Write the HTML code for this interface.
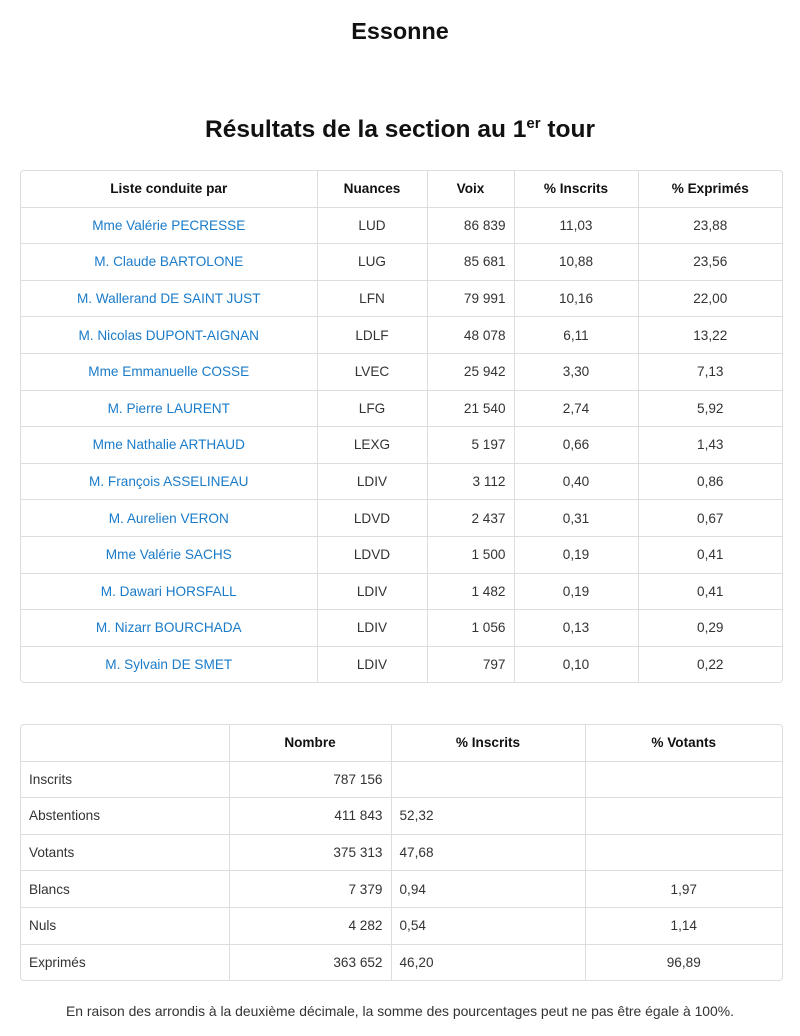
<!DOCTYPE html>
<html><head><meta charset="utf-8"><style>
body{margin:0;width:800px;height:1036px;background:#fff;font-family:"Liberation Sans",Arial,sans-serif;color:#333;position:relative;overflow:hidden}
h1,h2{position:absolute;left:0;width:800px;text-align:center;margin:0;font-weight:bold;color:#111}
h1{top:18px;font-size:23.4px}
h2{top:115px;font-size:24.5px}
h2 sup{font-size:15px}
.wrap{position:absolute;left:20px;width:761px;border:1px solid #ddd;border-radius:4px;overflow:hidden}
table{border-collapse:collapse;width:100%;font-size:13.6px;table-layout:fixed}
td,th{border-right:1px solid #ddd;border-bottom:1px solid #ddd;padding:0 8px;height:35.6px}
tr:last-child td{border-bottom:none}
td:last-child,th:last-child{border-right:none}
th{font-weight:bold;text-align:center;color:#111}
.c{text-align:center}.r{text-align:right}
a{color:#1a7bc9;text-decoration:none}
.foot{position:absolute;top:1003px;left:0;width:800px;text-align:center;font-size:13.9px}
</style></head><body>
<h1>Essonne</h1>
<h2>Résultats de la section au 1<sup>er</sup> tour</h2>
<div class="wrap" style="top:170px">
<table>
<colgroup><col style="width:296px"><col style="width:110px"><col style="width:87px"><col style="width:124px"><col></colgroup>
<tr><th>Liste conduite par</th><th>Nuances</th><th>Voix</th><th>% Inscrits</th><th>% Exprimés</th></tr>
<tr><td class="c"><a>Mme Valérie PECRESSE</a></td><td class="c">LUD</td><td class="r">86 839</td><td class="c">11,03</td><td class="c">23,88</td></tr>
<tr><td class="c"><a>M. Claude BARTOLONE</a></td><td class="c">LUG</td><td class="r">85 681</td><td class="c">10,88</td><td class="c">23,56</td></tr>
<tr><td class="c"><a>M. Wallerand DE SAINT JUST</a></td><td class="c">LFN</td><td class="r">79 991</td><td class="c">10,16</td><td class="c">22,00</td></tr>
<tr><td class="c"><a>M. Nicolas DUPONT-AIGNAN</a></td><td class="c">LDLF</td><td class="r">48 078</td><td class="c">6,11</td><td class="c">13,22</td></tr>
<tr><td class="c"><a>Mme Emmanuelle COSSE</a></td><td class="c">LVEC</td><td class="r">25 942</td><td class="c">3,30</td><td class="c">7,13</td></tr>
<tr><td class="c"><a>M. Pierre LAURENT</a></td><td class="c">LFG</td><td class="r">21 540</td><td class="c">2,74</td><td class="c">5,92</td></tr>
<tr><td class="c"><a>Mme Nathalie ARTHAUD</a></td><td class="c">LEXG</td><td class="r">5 197</td><td class="c">0,66</td><td class="c">1,43</td></tr>
<tr><td class="c"><a>M. François ASSELINEAU</a></td><td class="c">LDIV</td><td class="r">3 112</td><td class="c">0,40</td><td class="c">0,86</td></tr>
<tr><td class="c"><a>M. Aurelien VERON</a></td><td class="c">LDVD</td><td class="r">2 437</td><td class="c">0,31</td><td class="c">0,67</td></tr>
<tr><td class="c"><a>Mme Valérie SACHS</a></td><td class="c">LDVD</td><td class="r">1 500</td><td class="c">0,19</td><td class="c">0,41</td></tr>
<tr><td class="c"><a>M. Dawari HORSFALL</a></td><td class="c">LDIV</td><td class="r">1 482</td><td class="c">0,19</td><td class="c">0,41</td></tr>
<tr><td class="c"><a>M. Nizarr BOURCHADA</a></td><td class="c">LDIV</td><td class="r">1 056</td><td class="c">0,13</td><td class="c">0,29</td></tr>
<tr><td class="c"><a>M. Sylvain DE SMET</a></td><td class="c">LDIV</td><td class="r">797</td><td class="c">0,10</td><td class="c">0,22</td></tr>
</table></div>
<div class="wrap" style="top:724px">
<table>
<colgroup><col style="width:208px"><col style="width:162px"><col style="width:194px"><col></colgroup>
<tr><th></th><th>Nombre</th><th>% Inscrits</th><th>% Votants</th></tr>
<tr><td>Inscrits</td><td class="r">787 156</td><td></td><td></td></tr>
<tr><td>Abstentions</td><td class="r">411 843</td><td>52,32</td><td></td></tr>
<tr><td>Votants</td><td class="r">375 313</td><td>47,68</td><td></td></tr>
<tr><td>Blancs</td><td class="r">7 379</td><td>0,94</td><td class="c">1,97</td></tr>
<tr><td>Nuls</td><td class="r">4 282</td><td>0,54</td><td class="c">1,14</td></tr>
<tr><td>Exprimés</td><td class="r">363 652</td><td>46,20</td><td class="c">96,89</td></tr>
</table></div>
<div class="foot">En raison des arrondis à la deuxième décimale, la somme des pourcentages peut ne pas être égale à 100%.</div>
</body></html>
